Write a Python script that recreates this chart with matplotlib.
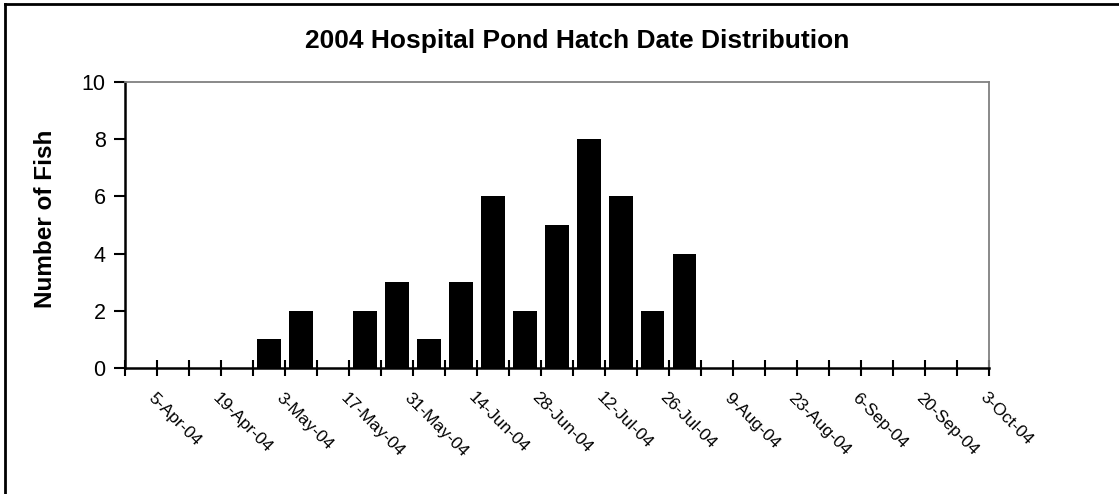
import matplotlib
matplotlib.use("Agg")
import matplotlib.pyplot as plt
from matplotlib.lines import Line2D

plt.rcParams['font.family'] = ['Liberation Sans', 'DejaVu Sans']

# weekly hatch counts, 27 weeks starting 29-Mar-04
week_counts = [0, 0, 0, 0, 1, 2, 0, 2, 3, 1, 3, 6, 2, 5, 8, 6, 2, 4,
               0, 0, 0, 0, 0, 0, 0, 0, 0]
date_labels = ['5-Apr-04', '19-Apr-04', '3-May-04', '17-May-04', '31-May-04',
               '14-Jun-04', '28-Jun-04', '12-Jul-04', '26-Jul-04', '9-Aug-04',
               '23-Aug-04', '6-Sep-04', '20-Sep-04', '3-Oct-04']
y_ticks = [0, 2, 4, 6, 8, 10]

fig = plt.figure(figsize=(11.19, 4.94), dpi=100)
ax = fig.add_axes([0.1117, 0.255, 0.8838 - 0.1117, 0.834 - 0.255])

n = len(week_counts)
x = [i + 0.5 for i in range(n)]
ax.bar(x, week_counts, width=0.72, color='black', zorder=3)

ax.set_xlim(0, n)
ax.set_ylim(0, 10)
ax.set_yticks(y_ticks)
ax.tick_params(axis='y', direction='out', length=8, width=1.5, labelsize=15.5, pad=6)

ax.set_xticks(range(n + 1))
ax.set_xticklabels([''] * (n + 1))
ax.tick_params(axis='x', direction='inout', length=11, width=1.5)

# rotated date labels at every other tick
for k, lab in enumerate(date_labels):
    pos = 2 * k + 1
    ax.text(pos - 0.2, -0.95, lab, rotation=-45, rotation_mode='anchor',
            ha='left', va='center', fontsize=12.5, transform=ax.transData,
            clip_on=False)

for side in ['left', 'bottom']:
    ax.spines[side].set_linewidth(1.8)
    ax.spines[side].set_color('black')
for side in ['top', 'right']:
    ax.spines[side].set_linewidth(1.3)
    ax.spines[side].set_color('#808080')

ax.set_ylabel('Number of Fish', fontsize=17.5, fontweight='bold')
ax.yaxis.set_label_coords(-0.079, 0.52)
fig.text(0.516, 0.918, '2004 Hospital Pond Hatch Date Distribution',
         ha='center', va='center', fontsize=19, fontweight='bold')

# chart frame (left and top edges)
fig.add_artist(Line2D([5 / 1119, 5 / 1119], [0, 1 - 4 / 494], color='black', lw=2))
fig.add_artist(Line2D([5 / 1119, 1], [1 - 4 / 494, 1 - 4 / 494], color='black', lw=2))

fig.savefig('out.png', dpi=100)
